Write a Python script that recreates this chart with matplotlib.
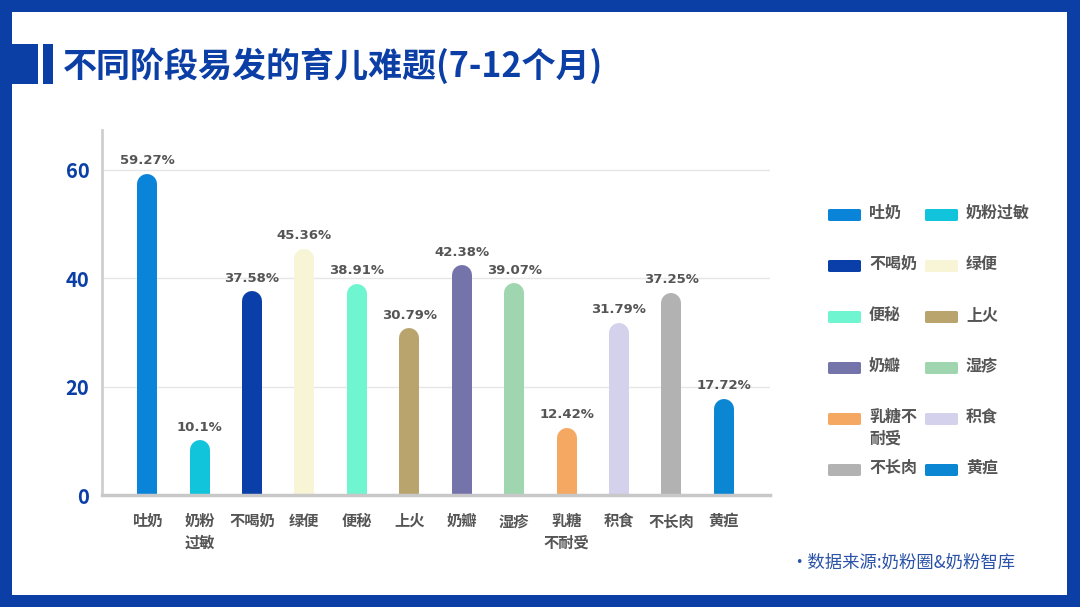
import numpy as np
import matplotlib
matplotlib.use("Agg")
import matplotlib.pyplot as plt
from matplotlib.patches import Rectangle, FancyBboxPatch

plt.rcParams['font.family'] = ['Noto Sans CJK SC', 'DejaVu Sans']

# data
categories = ['吐奶', '奶粉过敏', '不喝奶', '绿便', '便秘', '上火',
              '奶瓣', '湿疹', '乳糖不耐受', '积食', '不长肉', '黄疸']
tick_labels = ['吐奶', '奶粉\n过敏', '不喝奶', '绿便', '便秘', '上火',
               '奶瓣', '湿疹', '乳糖\n不耐受', '积食', '不长肉', '黄疸']
legend_labels = ['吐奶', '奶粉过敏', '不喝奶', '绿便', '便秘', '上火',
                 '奶瓣', '湿疹', '乳糖不\n耐受', '积食', '不长肉', '黄疸']
values = [59.27, 10.1, 37.58, 45.36, 38.91, 30.79,
          42.38, 39.07, 12.42, 31.79, 37.25, 17.72]
colors = ['#0a84d8', '#12c3dc', '#0a3ea8', '#f7f5d6', '#6ff5cf', '#b8a46c',
          '#7474aa', '#9fd6b0', '#f4a862', '#d3d1ec', '#b2b2b2', '#0a86d2']

W, H = 1080, 607
fig = plt.figure(figsize=(W / 100, H / 100), dpi=100)
fig.patch.set_facecolor('#0b3fa6')

# white panel inside blue frame
fig.patches.append(Rectangle((12 / W, 1 - 595 / H), (1067 - 12) / W, (595 - 12) / H,
                             transform=fig.transFigure, facecolor='white',
                             edgecolor='none', zorder=-2))
# title marker
fig.patches.append(Rectangle((12 / W, 1 - 84 / H), 26 / W, 40 / H,
                             transform=fig.transFigure, facecolor='#0b3fa6',
                             edgecolor='none', zorder=-1))
fig.patches.append(Rectangle((43 / W, 1 - 84 / H), 10 / W, 40 / H,
                             transform=fig.transFigure, facecolor='#0b3fa6',
                             edgecolor='none', zorder=-1))
fig.text(63 / W, 1 - 66 / H, '不同阶段易发的育儿难题(7-12个月)', fontsize=24.5,
         fontweight='bold', color='#0b3fa6', ha='left', va='center')

ax = fig.add_axes([102 / W, 1 - 495 / H, (770 - 102) / W, (495 - 130) / H])
ax.set_zorder(5)
ax.set_facecolor('none')
ymax = 67.3
ax.set_ylim(0, ymax)
ax.set_xlim(-0.86, 11.88)

x = np.arange(len(categories))
bar_px = 20
ax_h_px = (495 - 130)
cap = (bar_px / 2) * ymax / ax_h_px
for xi, v, c in zip(x, values, colors):
    # thick line with round cap gives the rounded bar top
    ax.plot([xi, xi], [-5, v - cap], color=c, lw=bar_px * 0.72,
            solid_capstyle='round', zorder=3)
    ax.text(xi, v + 1.2, f'{v}%', ha='center', va='bottom', fontsize=9.5,
            color='#555555', fontweight='bold', family=['DejaVu Sans'])

ax.set_yticks([0, 20, 40, 60])
ax.set_yticklabels(['0', '20', '40', '60'], fontsize=14.5, fontweight='bold',
                   color='#0b3fa6')
ax.set_xticks(x)
ax.set_xticklabels(tick_labels, fontsize=11, color='#555555', fontweight='bold',
                   linespacing=1.45)
ax.tick_params(axis='y', length=0, pad=9)
ax.tick_params(axis='x', length=0, pad=13)
for yv in [20, 40, 60]:
    ax.axhline(yv, color='#e6e6e6', lw=1, zorder=1)
for s in ['top', 'right']:
    ax.spines[s].set_visible(False)
ax.spines['left'].set_color('#cfcfcf')
ax.spines['left'].set_linewidth(2)
ax.spines['bottom'].set_color('#c8c8c8')
ax.spines['bottom'].set_linewidth(2.5)
ax.spines['bottom'].set_zorder(4)

# legend (two columns, row-wise)
for i, (lab, c) in enumerate(zip(legend_labels, colors)):
    row, col = divmod(i, 2)
    yc = 215 + row * 51
    bx = 828 if col == 0 else 925
    tx = 869 if col == 0 else 966
    fig.patches.append(FancyBboxPatch((bx / W, 1 - (yc + 6) / H), 33 / W, 12 / H,
                                      boxstyle='round,pad=0,rounding_size=0.002',
                                      transform=fig.transFigure, facecolor=c,
                                      edgecolor='none', zorder=2))
    fig.text(tx / W, 1 - (yc - 10) / H, lab, fontsize=11.5, color='#555555',
             fontweight='bold', ha='left', va='top', linespacing=1.4)

fig.text(790 / W, 1 - 563 / H, '·数据来源:奶粉圈&奶粉智库', fontsize=12.5,
         color='#2a52a8', ha='left', va='center')

fig.savefig('out.png', dpi=100)
